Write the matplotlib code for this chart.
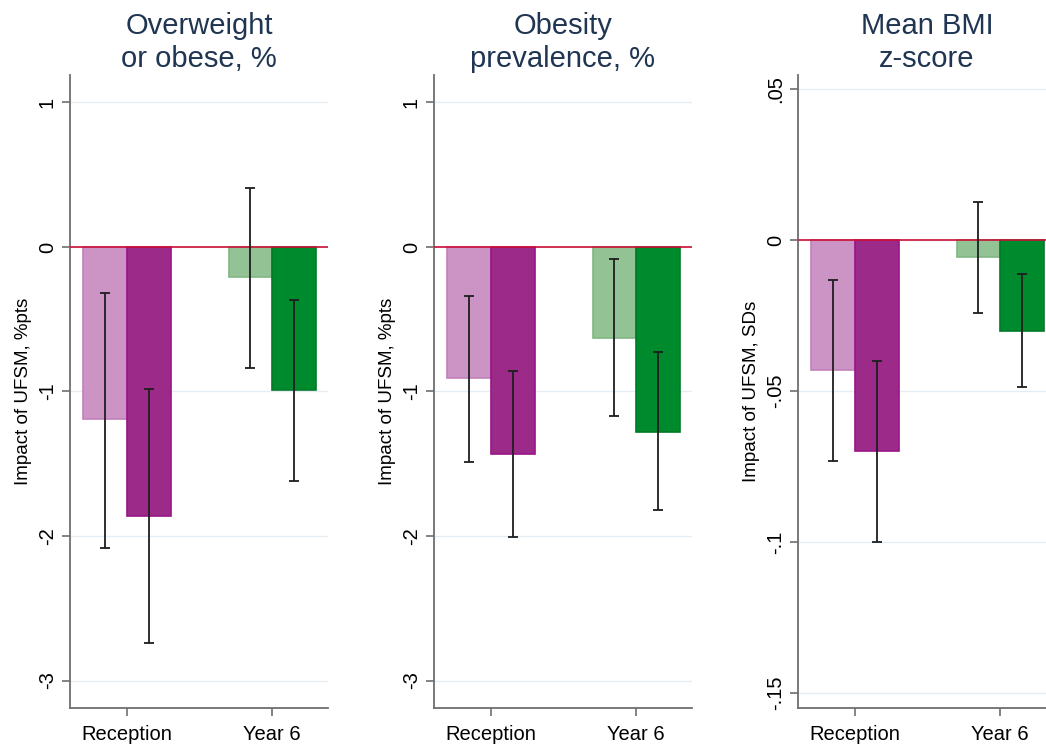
import matplotlib
matplotlib.use('Agg')
import matplotlib.pyplot as plt
import numpy as np

plt.rcParams['font.family'] = ['Liberation Sans', 'DejaVu Sans']

groups = ['Reception', 'Year 6']
titles = ['Overweight\nor obese, %', 'Obesity\nprevalence, %', 'Mean BMI\nz-score']
ylabels = ['Impact of UFSM, %pts', 'Impact of UFSM, %pts', 'Impact of UFSM, SDs']

# point estimates: light bar (first estimate) and dark bar (second estimate)
light_vals = [[-1.19, -0.21], [-0.91, -0.63], [-0.043, -0.0057]]
dark_vals = [[-1.86, -0.99], [-1.43, -1.28], [-0.070, -0.030]]
# confidence intervals (upper, lower)
light_hi = [[-0.32, 0.41], [-0.34, -0.08], [-0.0133, 0.0126]]
light_lo = [[-2.08, -0.84], [-1.49, -1.17], [-0.0731, -0.0243]]
dark_hi = [[-0.98, -0.37], [-0.86, -0.73], [-0.0399, -0.0113]]
dark_lo = [[-2.74, -1.62], [-2.01, -1.82], [-0.100, -0.0485]]

yticks = [[1, 0, -1, -2, -3], [1, 0, -1, -2, -3], [0.05, 0, -0.05, -0.1, -0.15]]
yticklabels = [['1', '0', '-1', '-2', '-3'], ['1', '0', '-1', '-2', '-3'],
               ['.05', '0', '-.05', '-.1', '-.15']]
ylims = [(-3.19, 1.19), (-3.19, 1.19), (-0.155, 0.0547)]

light_cols = ['#cc94c4', '#93c294']
dark_cols = ['#9b2a88', '#008a2e']
light_edge = ['#c280b8', '#80b681']
dark_edge = ['#9a1488', '#007a27']

fig = plt.figure(figsize=(10.46, 7.44), dpi=100)
lefts = [70, 434, 798]

x = np.arange(len(groups))
w = 0.3

for k in range(3):
    ax = fig.add_axes([lefts[k] / 1046, 0.0484, 258 / 1046, 0.8508])
    for i in range(len(groups)):
        ax.bar(x[i] - w / 2, light_vals[k][i], w, color=light_cols[i],
               edgecolor=light_edge[i], linewidth=1.2, zorder=2)
        ax.bar(x[i] + w / 2, dark_vals[k][i], w, color=dark_cols[i],
               edgecolor=dark_edge[i], linewidth=1.2, zorder=2)
        for xx, hi, lo in [(x[i] - w / 2, light_hi[k][i], light_lo[k][i]),
                           (x[i] + w / 2, dark_hi[k][i], dark_lo[k][i])]:
            mid = (hi + lo) / 2
            ax.errorbar(xx, mid, yerr=(hi - lo) / 2, fmt='none', ecolor='#1e1e1e',
                        elinewidth=1.3, capsize=3.5, capthick=1.3, zorder=4)
    ax.axhline(0, color='#cc1036', linewidth=1.2, zorder=3)
    ax.set_xlim(-0.393, 1.386)
    ax.set_ylim(*ylims[k])
    ax.set_yticks(yticks[k])
    ax.set_yticklabels(yticklabels[k], rotation=90, va='center')
    ax.set_xticks(x)
    ax.set_xticklabels(groups)
    ax.grid(axis='y', color='#e4edf3', linewidth=1.0, zorder=0)
    ax.set_axisbelow(True)
    for s in ['top', 'right']:
        ax.spines[s].set_visible(False)
    for s in ['left', 'bottom']:
        ax.spines[s].set_color('#6e6e6e')
        ax.spines[s].set_linewidth(1.3)
    ax.tick_params(axis='both', colors='#6e6e6e', labelcolor='black',
                   labelsize=14.5, length=6, width=1.2)
    ax.tick_params(axis='x', pad=6)
    ax.set_ylabel(ylabels[k], fontsize=13.5, labelpad=4)
    ax.set_title(titles[k], fontsize=21, color='#1f3552', pad=6, linespacing=1.2)

fig.savefig('out.png', dpi=100)
